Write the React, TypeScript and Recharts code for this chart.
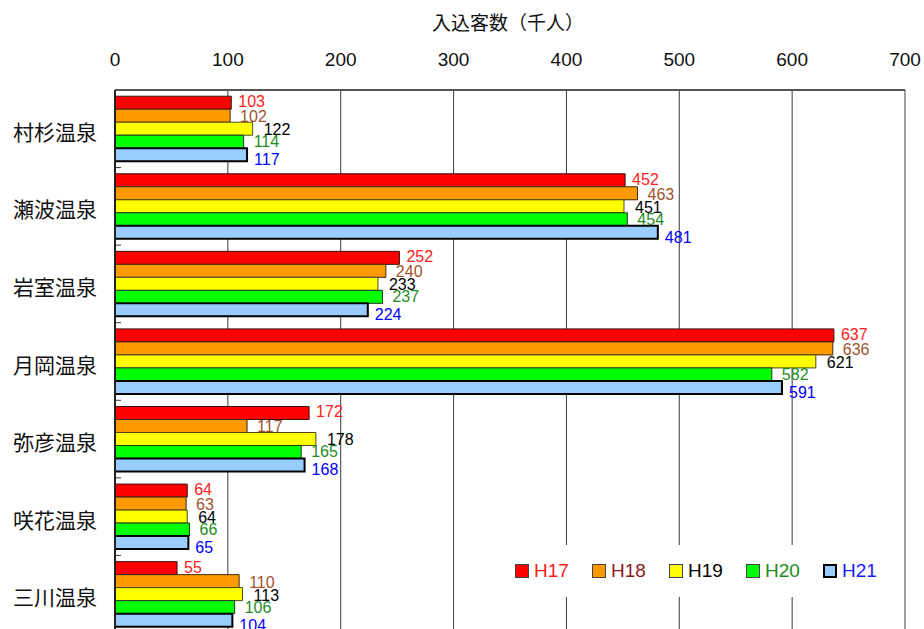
import React from 'react';
import {
  BarChart,
  Bar,
  XAxis,
  YAxis,
  CartesianGrid,
  LabelList,
  Legend,
} from 'recharts';

// Visitors per hot-spring resort, in thousands
const categories = ['村杉温泉', '瀬波温泉', '岩室温泉', '月岡温泉', '弥彦温泉', '咲花温泉', '三川温泉'];
const h17 = [103, 452, 252, 637, 172, 64, 55];
const h18 = [102, 463, 240, 636, 117, 63, 110];
const h19 = [122, 451, 233, 621, 178, 64, 113];
const h20 = [114, 454, 237, 582, 165, 66, 106];
const h21 = [117, 481, 224, 591, 168, 65, 104];
const xTicks = [0, 100, 200, 300, 400, 500, 600, 700];
const seriesNames = ['H17', 'H18', 'H19', 'H20', 'H21'];

const data = categories.map((name, i) => ({
  name,
  H17: h17[i],
  H18: h18[i],
  H19: h19[i],
  H20: h20[i],
  H21: h21[i],
}));

const series = [
  { key: 'H17', fill: '#ff0000', stroke: '#3a1010', strokeWidth: 1, label: '#ff2020', legend: '#ff1a1a', dx: 7, dy: -1 },
  { key: 'H18', fill: '#ff9900', stroke: '#3a2a10', strokeWidth: 1, label: '#a0522d', legend: '#8b1a1a', dx: 10, dy: 1 },
  { key: 'H19', fill: '#ffff00', stroke: '#4a4a20', strokeWidth: 1, label: '#000000', legend: '#000000', dx: 11, dy: 1 },
  { key: 'H20', fill: '#00ff00', stroke: '#203a20', strokeWidth: 1, label: '#1f8c1f', legend: '#1a8c1a', dx: 10, dy: 0 },
  { key: 'H21', fill: '#99ccff', stroke: '#000000', strokeWidth: 2, label: '#0000ff', legend: '#1a1aff', dx: 7, dy: 5 },
];

const CHART_W = 924;
const CHART_H = 640;
const MARGIN = { top: 0, right: 19, bottom: 7, left: 0 };
const X_AXIS_H = 90;
const Y_AXIS_W = 115;
const BAND = (CHART_H - MARGIN.top - MARGIN.bottom - X_AXIS_H) / categories.length;

const numFont = '"Liberation Sans", Arial, sans-serif';
const cjkFont = '"Noto Sans CJK JP", "Noto Sans", sans-serif';

const CategoryTick = (props: any) => {
  const { x, y, payload } = props;
  return (
    <g>
      <text
        x={x}
        y={y + 2}
        textAnchor="end"
        dominantBaseline="central"
        fontFamily={cjkFont}
        fontSize={21}
        fill="#111"
      >
        {payload.value}
      </text>
      <line
        x1={Y_AXIS_W}
        x2={Y_AXIS_W + 6}
        y1={y + BAND / 2}
        y2={y + BAND / 2}
        stroke="#333"
        strokeWidth={1}
      />
    </g>
  );
};

const makeLabel = (color: string, dx: number, dy: number) => (props: any) => {
  const { x, y, width, height, value } = props;
  return (
    <text
      x={x + width + dx}
      y={y + height / 2 + dy}
      dominantBaseline="central"
      textAnchor="start"
      fontFamily={numFont}
      fontSize={16}
      fill={color}
    >
      {value}
    </text>
  );
};

const LegendBox = () => (
  <div
    style={{
      display: 'flex',
      alignItems: 'center',
      height: '100%',
      paddingLeft: 10,
      boxSizing: 'border-box',
      background: '#ffffff',
    }}
  >
    {series.map((s, i) => (
      <div key={s.key} style={{ display: 'flex', alignItems: 'center', width: 78.5 }}>
        <span
          style={{
            display: 'inline-block',
            width: 14,
            height: 14,
            boxSizing: 'border-box',
            background: s.fill,
            border: `${s.strokeWidth === 2 ? 2 : 1}px solid ${s.strokeWidth === 2 ? '#000' : '#444'}`,
            marginRight: 5,
          }}
        />
        <span style={{ fontFamily: numFont, fontSize: 19, color: s.legend, lineHeight: '20px' }}>
          {seriesNames[i]}
        </span>
      </div>
    ))}
  </div>
);

export default function App() {
  return (
    <div
      style={{
        position: 'absolute',
        left: 0,
        top: 0,
        width: CHART_W,
        height: 629,
        overflow: 'hidden',
        background: '#ffffff',
      }}
    >
      <div
        style={{
          position: 'absolute',
          left: 113,
          top: 11,
          width: 790,
          textAlign: 'center',
          fontFamily: cjkFont,
          fontSize: 19,
          lineHeight: '22px',
          color: '#111',
          zIndex: 2,
        }}
      >
        入込客数（千人）
      </div>
      <BarChart
        width={CHART_W}
        height={CHART_H}
        data={data}
        layout="vertical"
        margin={MARGIN}
        barCategoryGap="8%"
        barGap={0}
      >
        <CartesianGrid horizontal={false} vertical stroke="#3a3a3a" strokeWidth={1} />
        <XAxis
          type="number"
          orientation="top"
          domain={[0, 700]}
          ticks={xTicks}
          interval={0}
          height={X_AXIS_H}
          tickLine={false}
          tickSize={0}
          tickMargin={24}
          axisLine={{ stroke: '#555', strokeWidth: 2 }}
          tick={{ fontFamily: numFont, fontSize: 19, fill: '#111' }}
        />
        <YAxis
          type="category"
          dataKey="name"
          width={Y_AXIS_W}
          tickLine={false}
          tickSize={0}
          tickMargin={18}
          interval={0}
          axisLine={{ stroke: '#222', strokeWidth: 2 }}
          tick={<CategoryTick />}
        />
        <Legend
          verticalAlign="middle"
          layout="horizontal"
          content={() => <LegendBox />}
          wrapperStyle={{ left: 505, top: 545, width: 395, height: 52 }}
        />
        {series.map((s) => (
          <Bar
            key={s.key}
            dataKey={s.key}
            fill={s.fill}
            stroke={s.stroke}
            strokeWidth={s.strokeWidth}
            isAnimationActive={false}
          >
            <LabelList dataKey={s.key} content={makeLabel(s.label, s.dx, s.dy)} />
          </Bar>
        ))}
      </BarChart>
    </div>
  );
}
